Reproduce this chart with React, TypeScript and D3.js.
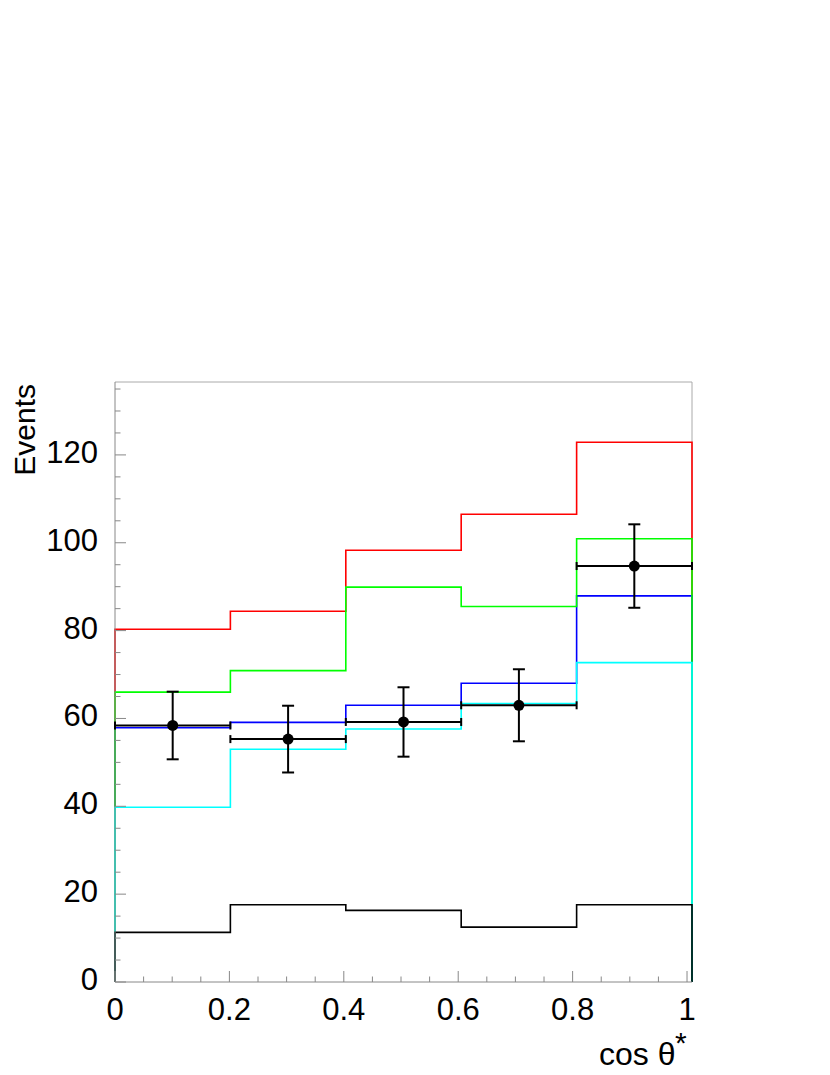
import React from 'react';
import * as d3 from 'd3';

// bin edges in cos theta* (5 equal bins, axis runs slightly past 1)
const binEdges = [0, 0.2017, 0.4035, 0.6052, 0.807, 1.0087];

// stacked MC histograms, one value per bin
const redHist = [80.3, 84.4, 98.3, 106.5, 122.9];
const greenHist = [66.0, 70.9, 89.9, 85.5, 100.9];
const blueHist = [57.9, 59.1, 63.0, 68.0, 87.9];
const cyanHist = [39.8, 53.0, 57.6, 63.4, 72.7];
const blackHist = [11.3, 17.6, 16.3, 12.5, 17.6];

// data points
const dataValues = [58.4, 55.3, 59.2, 63.0, 94.7];
const dataErrors = [7.7, 7.6, 7.9, 8.2, 9.5];

const xTickLabels = ['0', '0.2', '0.4', '0.6', '0.8', '1'];
const yTickLabels = ['0', '20', '40', '60', '80', '100', '120'];

const App = () => {
  const margin = {top: 382, right: 138, bottom: 93, left: 115};
  const fullW = 830, fullH = 1075;
  const width = fullW - margin.left - margin.right;
  const height = fullH - margin.top - margin.bottom;
  const font = '"Liberation Sans", Arial, Helvetica, sans-serif';

  const x = d3.scaleLinear().domain([0, 1.0087]).range([0, width]);
  const y = d3.scaleLinear().domain([0, 136.6]).range([height, 0]);

  const histPath = (vals: number[]) => {
    const p = d3.path();
    p.moveTo(x(binEdges[0]), y(0));
    vals.forEach((v, i) => {
      p.lineTo(x(binEdges[i]), y(v));
      p.lineTo(x(binEdges[i + 1]), y(v));
    });
    p.lineTo(x(binEdges[vals.length]), y(0));
    return p.toString();
  };

  const hists = [
    {vals: redHist, color: '#ff0000'},
    {vals: blueHist, color: '#0000ff'},
    {vals: greenHist, color: '#00ff00'},
    {vals: cyanHist, color: '#00ffff'},
    {vals: blackHist, color: '#000000'},
  ];

  const xMinor = d3.range(0, 1.0001, 0.05);
  const yMinor = d3.range(0, 136, 5);
  const axisColor = '#888888';

  return (
    <svg width={fullW} height={fullH}
      style={{position: 'absolute', left: 0, top: 0, display: 'block', background: '#fff'}}>
      <g transform={`translate(${margin.left},${margin.top})`}>
        {/* frame */}
        <line x1={0} x2={width} y1={0} y2={0} stroke="#aaaaaa" strokeWidth={1} />
        <line x1={width} x2={width} y1={0} y2={height} stroke="#aaaaaa" strokeWidth={1} />

        {/* histograms */}
        {hists.map((h, i) => (
          <path key={i} d={histPath(h.vals)} fill="none" stroke={h.color} strokeWidth={1.6} />
        ))}

        {/* axes */}
        <line x1={0} x2={0} y1={0} y2={height} stroke={axisColor} strokeWidth={1} />
        <line x1={0} x2={width} y1={height} y2={height} stroke={axisColor} strokeWidth={1} />
        {yMinor.map((v, i) => (
          <line key={'ym' + i} x1={0} x2={v % 20 === 0 ? 11 : 5.5} y1={y(v)} y2={y(v)}
            stroke={axisColor} strokeWidth={1} />
        ))}
        {xMinor.map((v, i) => (
          <line key={'xm' + i} x1={x(v)} x2={x(v)} y1={height}
            y2={height - (i % 4 === 0 ? 11 : 5.5)} stroke={axisColor} strokeWidth={1} />
        ))}
        {yTickLabels.map((t, i) => (
          <text key={'yl' + i} x={-17} y={y(+t) + 8} textAnchor="end" fontFamily={font}
            fontSize={31} fill="#000">{t}</text>
        ))}
        {xTickLabels.map((t, i) => (
          <text key={'xl' + i} x={x(+t)} y={height + 38} textAnchor="middle" fontFamily={font}
            fontSize={31} fill="#000">{t}</text>
        ))}

        {/* data points */}
        {dataValues.map((v, i) => {
          const x0 = x(binEdges[i]), x1 = x(binEdges[i + 1]);
          const cx = (x0 + x1) / 2;
          const yt = y(v + dataErrors[i]), yb = y(v - dataErrors[i]);
          return (
            <g key={'d' + i} stroke="#000" strokeWidth={2}>
              <line x1={x0} x2={x1} y1={y(v)} y2={y(v)} />
              <line x1={x0} x2={x0} y1={y(v) - 4} y2={y(v) + 4} />
              <line x1={x1} x2={x1} y1={y(v) - 4} y2={y(v) + 4} />
              <line x1={cx} x2={cx} y1={yt} y2={yb} />
              <line x1={cx - 6} x2={cx + 6} y1={yt} y2={yt} />
              <line x1={cx - 6} x2={cx + 6} y1={yb} y2={yb} />
              <circle cx={cx} cy={y(v)} r={5.5} fill="#000" stroke="none" />
            </g>
          );
        })}
      </g>

      {/* axis titles */}
      <text transform="translate(35,384) rotate(-90)" textAnchor="end" fontFamily={font}
        fontSize={30} fill="#000">Events</text>
      <text x={599} y={1065} fontFamily={font} fontSize={32} fill="#000">cos θ</text>
      <text x={675} y={1053} fontFamily={font} fontSize={30} fill="#000">*</text>
    </svg>
  );
};

export default App;
